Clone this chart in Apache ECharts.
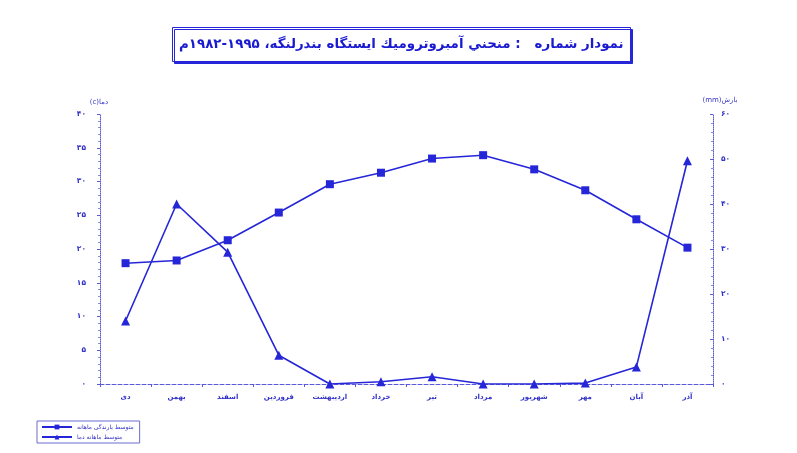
<!DOCTYPE html>
<html>
<head>
<meta charset="utf-8">
<script src="https://cdn.jsdelivr.net/npm/echarts@6/dist/echarts.min.js"></script>
<style>html,body{margin:0;padding:0;background:#fff}#c{width:797px;height:453px}</style>
</head>
<body>
<div id="c"></div>
<script>
const months = ['دی','بهمن','اسفند','فروردین','اردیبهشت','خرداد','تیر','مرداد','شهریور','مهر','آبان','آذر'];
const squareSeriesName = 'متوسط بارندگی ماهانه';
const triangleSeriesName = 'متوسط ماهانه دما';
const squareValues = [17.9, 18.3, 21.3, 25.4, 29.6, 31.3, 33.4, 33.9, 31.8, 28.7, 24.4, 20.2];
const triangleValues = [14.0, 40.0, 29.3, 6.4, 0, 0.5, 1.6, 0, 0, 0.2, 3.8, 49.6];
const leftAxisName = '(c)دما';
const rightAxisName = '(mm)بارش';
const titleText = 'نمودار شماره   : منحني آمبروترومیك ایستگاه بندرلنگه، ۱۹۹۵-۱۹۸۲م';

const fa = n => String(n).replace(/\d/g, d => '۰۱۲۳۴۵۶۷۸۹'[d]);
const BLUE = '#2626d9';
const TXT = '#3232c8';
const FONT = "'DejaVu Sans', sans-serif";

const chart = echarts.init(document.getElementById('c'));
chart.setOption({
  animation: false,
  backgroundColor: '#fff',
  title: {
    text: titleText,
    left: 172, top: 27,
    padding: [9, 7, 9, 7],
    backgroundColor: '#fff',
    borderColor: BLUE, borderWidth: 1,
    shadowColor: BLUE, shadowOffsetX: 2, shadowOffsetY: 2, shadowBlur: 0,
    textStyle: { fontFamily: FONT, fontSize: 13.4, fontWeight: 'bold', color: '#1a1ad0', lineHeight: 17 }
  },
  legend: {
    orient: 'vertical', left: 37, top: 421,
    itemWidth: 30, itemHeight: 6, itemGap: 4,
    padding: [3, 6, 3, 4],
    borderColor: '#6a6ad0', borderWidth: 1,
    textStyle: { fontFamily: FONT, fontSize: 6, color: TXT },
    data: [squareSeriesName, triangleSeriesName]
  },
  grid: { left: 100, right: 84, top: 114, bottom: 69 },
  xAxis: {
    type: 'category', data: months, boundaryGap: true,
    axisLine: { lineStyle: { color: '#5a5ad8', type: 'dashed', width: 1 } },
    axisTick: { show: true, length: 3, lineStyle: { color: '#5a5ad8' } },
    axisLabel: { fontFamily: FONT, fontSize: 7, fontWeight: 'bold', color: TXT, margin: 10 }
  },
  yAxis: [
    {
      type: 'value', min: 0, max: 40, interval: 5, position: 'left',
      name: leftAxisName, nameGap: 8,
      nameTextStyle: { fontFamily: FONT, fontSize: 7, color: TXT, align: 'right', padding: [0, -8, 0, 0] },
      splitLine: { show: false },
      axisLine: { show: true, lineStyle: { color: '#5a5ad8', type: 'dotted', width: 1 } },
      axisTick: { show: true, length: 3, inside: false, lineStyle: { color: '#5a5ad8' } },
      minorTick: { show: true, splitNumber: 5, length: 2, lineStyle: { color: '#8a8ae0' } },
      axisLabel: { fontFamily: FONT, fontSize: 7.5, fontWeight: 'bold', color: TXT, margin: 14, formatter: v => fa(v) }
    },
    {
      type: 'value', min: 0, max: 60, interval: 10, position: 'right',
      name: rightAxisName, nameGap: 10,
      nameTextStyle: { fontFamily: FONT, fontSize: 7, color: TXT, align: 'center', padding: [0, 0, 0, 14] },
      splitLine: { show: false },
      axisLine: { show: true, lineStyle: { color: '#5a5ad8', type: 'dotted', width: 1 } },
      axisTick: { show: true, length: 3, inside: true, lineStyle: { color: '#5a5ad8' } },
      minorTick: { show: true, splitNumber: 5, length: 2, lineStyle: { color: '#8a8ae0' } },
      axisLabel: { fontFamily: FONT, fontSize: 7.5, fontWeight: 'bold', color: TXT, margin: 8, formatter: v => fa(v) }
    }
  ],
  series: [
    {
      name: squareSeriesName, type: 'line', yAxisIndex: 0, data: squareValues,
      symbol: 'rect', symbolSize: 8,
      lineStyle: { color: BLUE, width: 1.6 }, itemStyle: { color: BLUE }
    },
    {
      name: triangleSeriesName, type: 'line', yAxisIndex: 1, data: triangleValues,
      symbol: 'triangle', symbolSize: 9,
      lineStyle: { color: BLUE, width: 1.6 }, itemStyle: { color: BLUE }
    }
  ]
});
</script>
</body>
</html>
